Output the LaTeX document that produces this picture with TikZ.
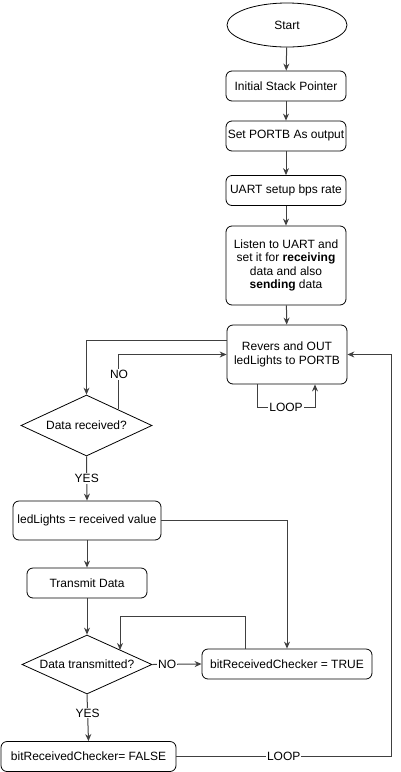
\documentclass[tikz,border=0pt]{standalone}
\usepackage{fontspec}
\setmainfont{Liberation Sans}
\usetikzlibrary{shapes.geometric,arrows.meta}
\begin{document}
\begin{tikzpicture}[x=1pt,y=-1pt,
  every node/.style={font=\fontsize{12}{13.5}\selectfont},
  box/.style={draw,rounded corners=6pt,line width=0.8pt,align=center,inner sep=0pt},
  dia/.style={draw,diamond,line width=0.8pt,inner sep=0pt,aspect=2.15},
  conn/.style={draw=black!75,line width=1pt,-{Stealth[length=7pt,width=6pt]}},
  line/.style={draw=black!75,line width=1pt},
  lbl/.style={fill=white,inner sep=1pt}]
\useasboundingbox (0,0) rectangle (401,772);
\node[draw,ellipse,line width=0.8pt,minimum width=120pt,minimum height=44pt] (start) at (287,25) {Start};
\node[box,minimum width=120pt,minimum height=30pt] (isp) at (286,86) {Initial Stack Pointer};
\node[box,minimum width=120pt,minimum height=30pt] (port) at (286,136) {Set PORTB As output};
\node[box,minimum width=120pt,minimum height=30pt] (uart) at (286,190.5) {UART setup bps rate};
\node[box,minimum width=120pt,minimum height=79pt] (listen) at (286,265.5) {Listen to UART and\\set it for \textbf{receiving}\\data and also\\\textbf{sending} data};
\node[box,minimum width=120pt,minimum height=59pt] (rev) at (287,354.5) {Revers and OUT\\ledLights to PORTB};
\node[dia,minimum width=131pt,minimum height=61pt] (drec) at (86.5,425.5) {Data received?};
\node[box,minimum width=148pt,minimum height=39pt] (led) at (87,520.5) {ledLights = received value};
\node[box,minimum width=120pt,minimum height=30pt] (tx) at (87,583) {Transmit Data};
\node[dia,minimum width=130pt,minimum height=59pt] (dtx) at (87,664.5) {Data transmitted?};
\node[box,minimum width=170pt,minimum height=30pt] (true) at (287,664) {bitReceivedChecker = TRUE};
\node[box,minimum width=175pt,minimum height=30pt] (false) at (88.5,756.5) {bitReceivedChecker= FALSE};

\coordinate (c1) at (87,340);
\coordinate (c2) at (118,354.5);
\coordinate (l1) at (257,407);
\coordinate (l2) at (315,407);
\coordinate (r1) at (391,756.5);
\coordinate (r2) at (391,354.5);
\coordinate (t1) at (245,616);
\coordinate (t2) at (120,616);
\coordinate (t3) at (120,650);

\draw[conn] (start) -- (isp);
\draw[conn] (isp) -- (port);
\draw[conn] (port) -- (uart);
\draw[conn] (uart) -- (listen);
\draw[conn] (listen) -- (rev);
\draw[conn] (rev.west |- c1) -| (drec.north);
\draw[conn] (c2 |- drec.north east) ++(0,-1) -- (c2) -- (rev.west);
\path (c2) ++(1,20) node[lbl] (nolbl) {NO};
\draw[conn] (rev.south -| l1) |- (l2) node[lbl,pos=0.75] {LOOP} -- (rev.south -| l2);
\draw[conn] (drec.south) -- (led.north) node[lbl,midway] {YES};
\draw[conn] (led) -- (tx);
\draw[conn] (tx) -- (dtx);
\draw[conn] (dtx.east) -- (true.west) node[lbl,pos=0.3] {NO};
\draw[conn] (led.east) -| (true.north);
\draw[conn] (true.north -| t1) |- (t2) -- (t3);
\draw[conn] (dtx.south) -- (false.north) node[lbl,pos=0.4] {YES};
\draw[line] (false.east) -- (r1) node[lbl,pos=0.5] {LOOP};
\draw[conn] (r1) -- (r2) -- (rev.east);
\end{tikzpicture}
\end{document}
